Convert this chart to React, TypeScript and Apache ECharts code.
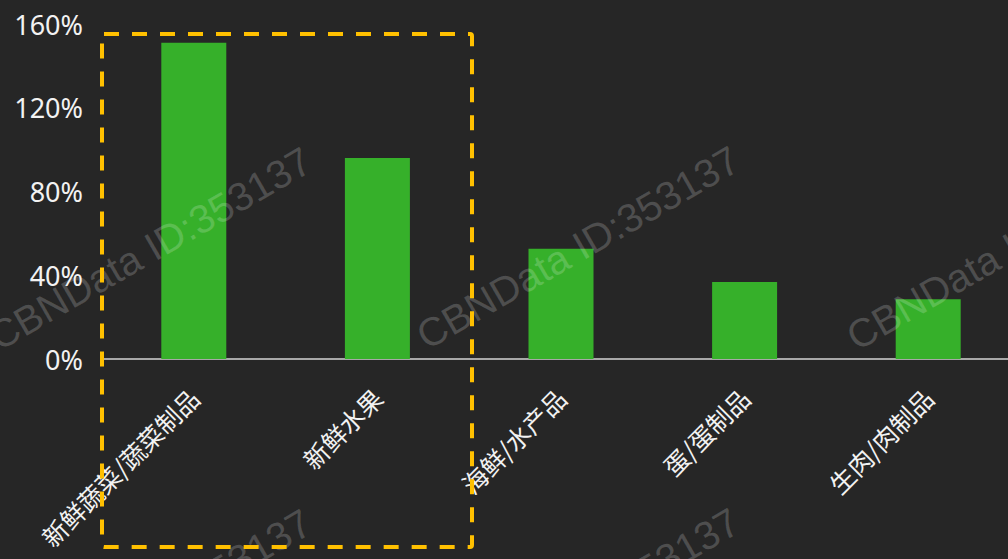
import React, { useEffect, useRef } from "react";
import * as echarts from "echarts";

const categories = ["新鲜蔬菜/蔬菜制品", "新鲜水果", "海鲜/水产品", "蛋/蛋制品", "生肉/肉制品"];
const growthValues = [151, 96, 52.6, 36.8, 28.5];
const yTicks = [0, 40, 80, 120, 160];
const watermarkText = "CBNData ID:353137";

export default function App() {
  const ref = useRef<HTMLDivElement>(null);
  useEffect(() => {
    if (!ref.current) return;
    const chart = echarts.init(ref.current, null, { renderer: "svg" });
    const wmPositions: [number, number][] = [
      [2, 357], [430, 356], [860, 357],
      [2, 719], [430, 718], [860, 719],
    ];
    const watermarks = wmPositions.map(([x, y]) => ({
      type: "text",
      x,
      y,
      rotation: (30 * Math.PI) / 180,
      z: 50,
      silent: true,
      style: {
        text: watermarkText,
        fontSize: 40,
        fontFamily: "Liberation Sans, Arial, sans-serif",
        fill: "rgba(255,255,255,0.19)",
        textAlign: "left",
        textVerticalAlign: "bottom",
      },
    }));
    chart.setOption({
      animation: false,
      backgroundColor: "#262626",
      grid: { left: 102, top: 24, width: 918, height: 335, containLabel: false },
      xAxis: {
        type: "category",
        data: categories,
        axisLine: { lineStyle: { color: "#d4d4d4", width: 1.5 } },
        axisTick: { show: false },
        axisLabel: {
          rotate: 45,
          margin: 34,
          interval: 0,
          color: "#f2f2f2",
          fontSize: 25,
          fontFamily: "Noto Sans CJK SC, sans-serif",
        },
      },
      yAxis: {
        type: "value",
        min: yTicks[0],
        max: yTicks[yTicks.length - 1],
        interval: 40,
        splitLine: { show: false },
        axisLine: { show: false },
        axisTick: { show: false },
        axisLabel: {
          formatter: "{value}%",
          margin: 19,
          color: "#f2f2f2",
          fontSize: 27,
          fontFamily: "Noto Sans, sans-serif",
        },
      },
      series: [
        {
          type: "bar",
          data: growthValues,
          barWidth: 65,
          itemStyle: { color: "#36b02a" },
          z: 2,
        },
      ],
      graphic: [
        ...watermarks,
        {
          type: "rect",
          z: 100,
          silent: true,
          shape: { x: 102, y: 34, width: 370, height: 513, r: 2 },
          style: { fill: "none", stroke: "#FFC000", lineWidth: 4, lineDash: [15, 13] },
        },
      ],
    });
    return () => chart.dispose();
  }, []);
  return (
    <div style={{ position: "absolute", left: 0, top: 0, width: 1008, height: 559, overflow: "hidden" }}>
      <div ref={ref} style={{ width: 1040, height: 559 }} />
    </div>
  );
}
